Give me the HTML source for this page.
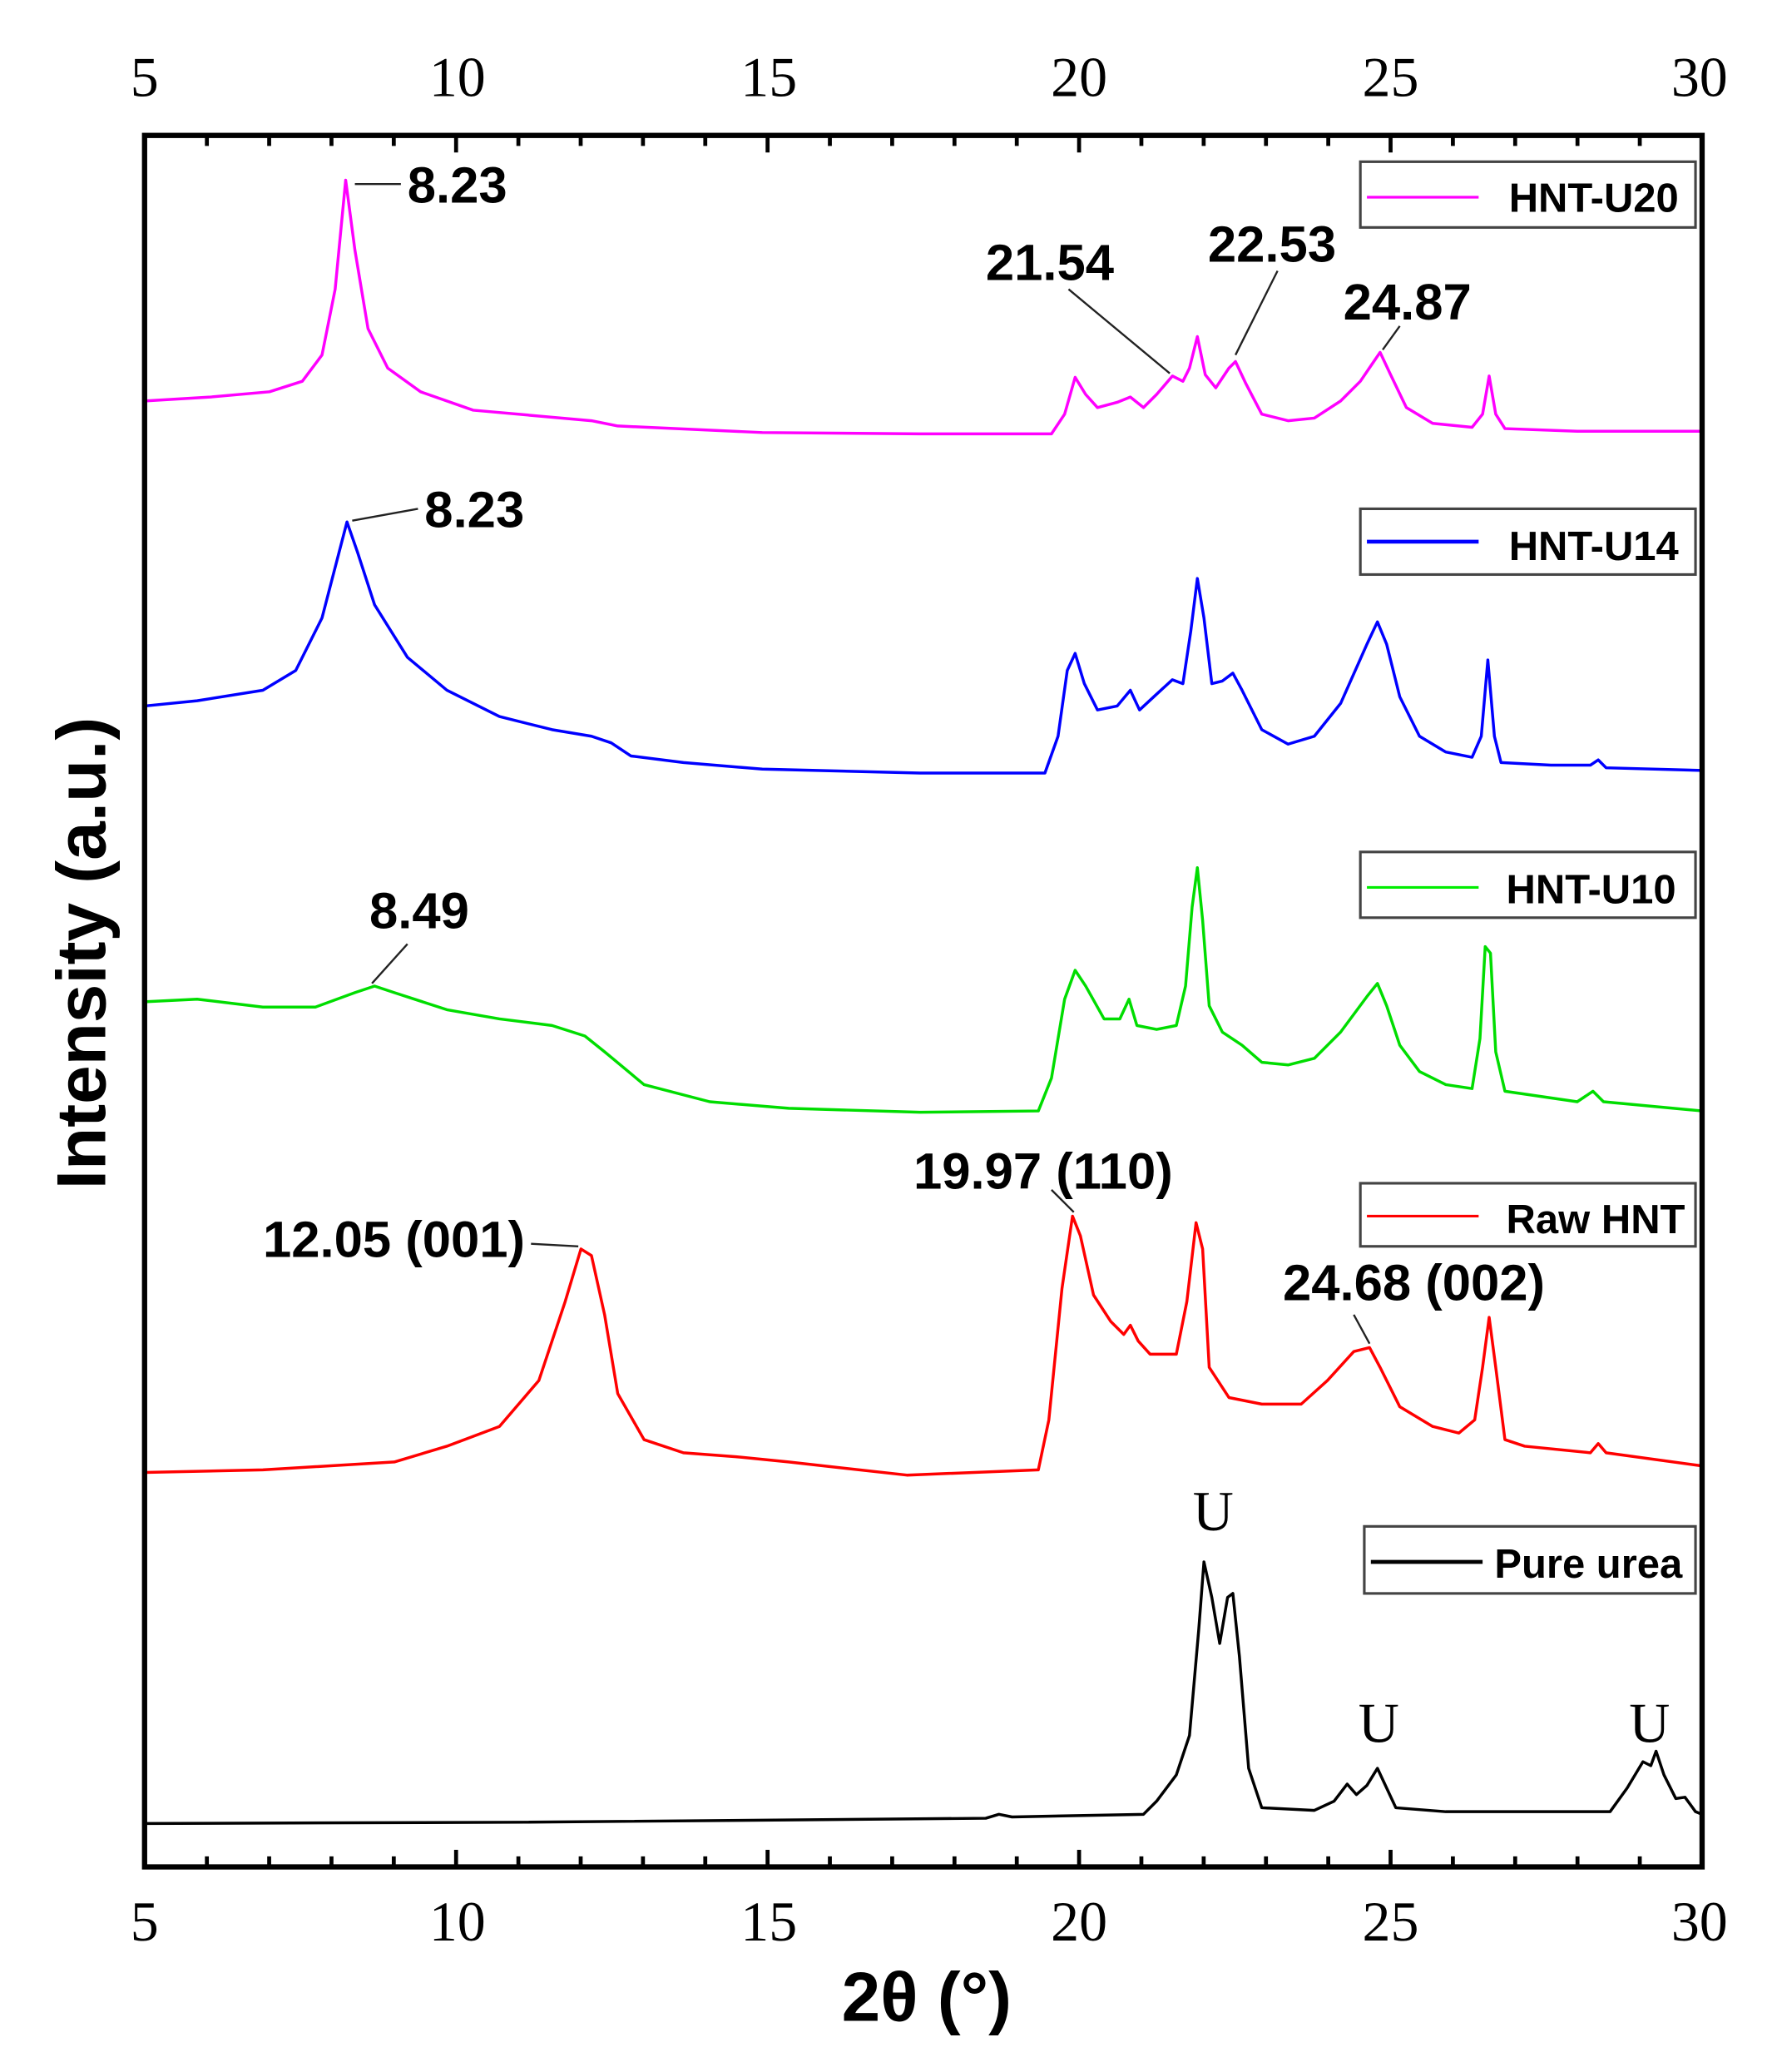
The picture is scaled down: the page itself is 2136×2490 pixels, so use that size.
<!DOCTYPE html>
<html><head><meta charset="utf-8"><style>html,body{margin:0;padding:0;background:#fff}svg{display:block}</style></head>
<body>
<svg width="2136" height="2490" viewBox="0 0 1352 1576" preserveAspectRatio="none" xmlns="http://www.w3.org/2000/svg">
<rect width="1352" height="1576" fill="#fff"/>
<g fill="none" stroke-width="2.2" stroke-linejoin="round">
<path stroke="#f0f" d="M110 305 L160 302 L205 298 L230 290 L245 270 L255 220 L263 137 L270 190 L280 250 L295 280 L320 298 L360 312 L450 320 L470 324 L580 329 L700 330 L800 330 L810 315 L818 287 L826 300 L835 310 L850 306 L860 302 L870 310 L880 300 L892 286 L900 290 L905 280 L911 256 L917 285 L925 295 L935 280 L940 275 L948 292 L960 315 L980 320 L1000 318 L1020 305 L1035 290 L1050 268 L1058 285 L1070 310 L1090 322 L1120 325 L1128 315 L1133 286 L1138 315 L1145 326 L1200 328 L1295 328"/>
<path stroke="#00f" d="M110 537 L150 533 L200 525 L225 510 L245 470 L258 420 L264 397 L272 420 L285 460 L310 500 L340 525 L380 545 L420 555 L450 560 L465 565 L480 575 L520 580 L580 585 L700 588 L795 588 L805 560 L812 510 L818 497 L825 520 L835 540 L850 537 L860 525 L867 540 L880 528 L892 517 L900 520 L906 480 L911 440 L916 470 L922 520 L930 518 L938 512 L945 525 L960 555 L980 566 L1000 560 L1020 535 L1040 490 L1048 473 L1055 490 L1065 530 L1080 560 L1100 572 L1120 576 L1127 560 L1132 502 L1137 560 L1142 580 L1180 582 L1210 582 L1216 578 L1222 584 L1295 586"/>
<path stroke="#0d0" d="M110 762 L150 760 L200 766 L240 766 L270 755 L285 750 L300 755 L340 768 L380 775 L420 780 L445 788 L460 800 L490 825 L540 838 L600 843 L700 846 L790 845 L800 820 L810 760 L818 738 L826 750 L840 775 L852 775 L859 760 L865 780 L880 783 L895 780 L902 750 L907 690 L911 660 L915 700 L920 765 L930 785 L945 795 L960 808 L980 810 L1000 805 L1020 785 L1040 758 L1048 748 L1055 765 L1065 795 L1080 815 L1100 825 L1120 828 L1126 790 L1130 720 L1134 725 L1138 800 L1145 830 L1200 838 L1212 830 L1220 838 L1295 845"/>
<path stroke="#f00" d="M110 1120 L200 1118 L300 1112 L340 1100 L380 1085 L410 1050 L430 990 L442 950 L450 955 L460 1000 L470 1060 L490 1095 L520 1105 L560 1108 L600 1112 L690 1122 L790 1118 L798 1080 L808 980 L816 925 L822 940 L832 985 L845 1005 L855 1015 L860 1008 L866 1020 L875 1030 L895 1030 L903 990 L910 930 L915 950 L920 1040 L935 1063 L960 1068 L990 1068 L1010 1050 L1030 1028 L1042 1025 L1050 1040 L1065 1070 L1090 1085 L1110 1090 L1122 1080 L1128 1040 L1133 1002 L1138 1040 L1145 1095 L1160 1100 L1210 1105 L1216 1098 L1222 1105 L1295 1115"/>
<path stroke="#000" d="M110 1387 L400 1386 L750 1383 L760 1380 L770 1382 L870 1380 L880 1370 L895 1350 L905 1320 L912 1240 L916 1188 L922 1215 L928 1250 L934 1215 L938 1212 L943 1260 L950 1345 L960 1375 L1000 1377 L1015 1370 L1025 1357 L1032 1365 L1040 1358 L1048 1345 L1055 1360 L1062 1375 L1100 1378 L1225 1378 L1238 1360 L1250 1340 L1256 1343 L1260 1332 L1266 1350 L1275 1368 L1282 1367 L1290 1378 L1295 1380"/>
</g>
<g stroke="#000" stroke-width="3">
<path d="M110 103v13M157.4 103v8M204.8 103v8M252.2 103v8M299.6 103v8M347 103v13M394.4 103v8M441.8 103v8M489.2 103v8M536.6 103v8M584 103v13M631.4 103v8M678.8 103v8M726.2 103v8M773.6 103v8M821 103v13M868.4 103v8M915.8 103v8M963.2 103v8M1010.6 103v8M1058 103v13M1105.4 103v8M1152.8 103v8M1200.2 103v8M1247.6 103v8M1295 103v13"/>
<path d="M110 1420v-13M157.4 1420v-8M204.8 1420v-8M252.2 1420v-8M299.6 1420v-8M347 1420v-13M394.4 1420v-8M441.8 1420v-8M489.2 1420v-8M536.6 1420v-8M584 1420v-13M631.4 1420v-8M678.8 1420v-8M726.2 1420v-8M773.6 1420v-8M821 1420v-13M868.4 1420v-8M915.8 1420v-8M963.2 1420v-8M1010.6 1420v-8M1058 1420v-13M1105.4 1420v-8M1152.8 1420v-8M1200.2 1420v-8M1247.6 1420v-8M1295 1420v-13"/>
</g>
<rect x="110" y="103" width="1185" height="1317" fill="none" stroke="#000" stroke-width="4"/>
<g font-family="Liberation Serif, serif" font-size="43" text-anchor="middle" fill="#000">
<text x="110" y="73">5</text><text x="348" y="73">10</text><text x="585" y="73">15</text><text x="821" y="73">20</text><text x="1058" y="73">25</text><text x="1293" y="73">30</text>
<text x="110" y="1476">5</text><text x="348" y="1476">10</text><text x="585" y="1476">15</text><text x="821" y="1476">20</text><text x="1058" y="1476">25</text><text x="1293" y="1476">30</text>
<text x="923" y="1164">U</text><text x="1049" y="1325">U</text><text x="1255" y="1325">U</text>
</g>
<text x="705" y="1537" font-family="Liberation Sans, sans-serif" font-weight="bold" font-size="53" text-anchor="middle">2θ (°)</text>
<text transform="translate(80,725) rotate(-90)" font-family="Liberation Sans, sans-serif" font-weight="bold" font-size="53" text-anchor="middle">Intensity (a.u.)</text>
<g font-family="Liberation Sans, sans-serif" font-weight="bold" font-size="39" fill="#000">
<text x="310" y="154">8.23</text><text x="750" y="213">21.54</text><text x="919" y="199">22.53</text><text x="1022" y="243">24.87</text>
<text x="323" y="401">8.23</text><text x="281" y="706">8.49</text>
<text x="200" y="956">12.05 (001)</text><text x="695" y="904">19.97 (110)</text><text x="976" y="989">24.68 (002)</text>
</g>
<g stroke="#222" stroke-width="1.5" fill="none">
<line x1="270" y1="140" x2="305" y2="140"/>
<line x1="813" y1="220" x2="890" y2="284"/><line x1="972" y1="206" x2="940" y2="270"/><line x1="1065" y1="248" x2="1052" y2="266"/>
<line x1="268" y1="396" x2="318" y2="387"/><line x1="310" y1="718" x2="283" y2="748"/>
<line x1="404" y1="946" x2="440" y2="948"/><line x1="800" y1="905" x2="817" y2="922"/><line x1="1030" y1="1000" x2="1042" y2="1022"/>
</g>
<g font-family="Liberation Sans, sans-serif" font-weight="bold" font-size="31" fill="#000" stroke-width="2">
<rect x="1035" y="123" width="255" height="50" fill="#fff" stroke="#444"/><line x1="1040" y1="150" x2="1125" y2="150" stroke="#f0f"/><text x="1148" y="161">HNT-U20</text>
<rect x="1035" y="387" width="255" height="50" fill="#fff" stroke="#444"/><line x1="1040" y1="412" x2="1125" y2="412" stroke="#00f" stroke-width="3"/><text x="1148" y="426">HNT-U14</text>
<rect x="1035" y="648" width="255" height="50" fill="#fff" stroke="#444"/><line x1="1040" y1="675" x2="1125" y2="675" stroke="#0e0"/><text x="1146" y="687">HNT-U10</text>
<rect x="1035" y="900" width="255" height="48" fill="#fff" stroke="#444"/><line x1="1040" y1="925" x2="1125" y2="925" stroke="#f00"/><text x="1146" y="938">Raw HNT</text>
<rect x="1038" y="1161" width="252" height="51" fill="#fff" stroke="#444"/><line x1="1043" y1="1188" x2="1128" y2="1188" stroke="#000" stroke-width="3"/><text x="1137" y="1200">Pure urea</text>
</g>
</svg>
</body></html>
